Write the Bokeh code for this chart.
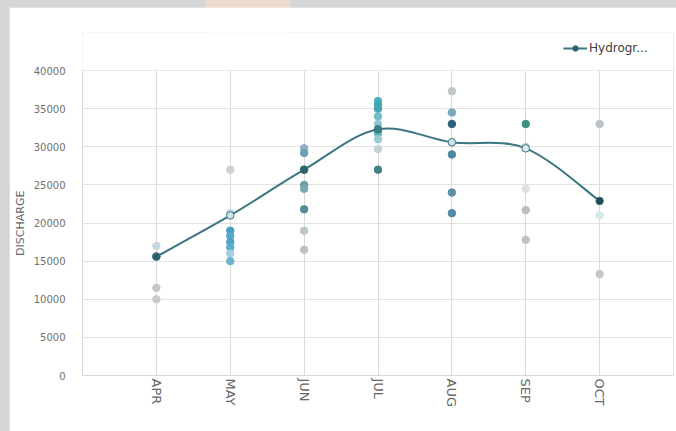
import numpy as np
from bokeh.plotting import figure
from bokeh.models import (ColumnDataSource, FixedTicker, Legend, LegendItem,
                          Range1d, Column, BoxAnnotation)
from bokeh.embed import file_html
from bokeh.resources import INLINE

# ---------------- data ----------------
months = ["APR", "MAY", "JUN", "JUL", "AUG", "SEP", "OCT"]
hydrograph = [15600, 21000, 27000, 32300, 30600, 29800, 22900]

obs_apr = [17000, 15600, 11500, 10000]
obs_may = [27000, 21300, 19000, 18300, 17500, 16800, 16000, 15000]
obs_jun = [29800, 29200, 27000, 25000, 24500, 21800, 19000, 16500]
obs_jul = [36000, 35500, 35000, 34000, 33000, 31800, 31000, 29700, 27000]
obs_aug = [37300, 34500, 33000, 29000, 24000, 21300]
obs_sep = [33000, 30000, 24500, 21700, 17800]
obs_oct = [33000, 21000, 13300]

y_ticks = [0, 5000, 10000, 15000, 20000, 25000, 30000, 35000, 40000]
y_max = 40000

# ---------------- styles ----------------
col_apr = ["#c3d8e3", "#4e8f9c", "#c2c9cc", "#c5cbce"]
col_may = ["#cdd3d6", "#b9d4df", "#4a9ec0", "#58a8c9", "#4ea5c5", "#5aaecb", "#a6cde0", "#6db4ce"]
col_jun = ["#8eafc6", "#6d9fb8", "#2f6a70", "#6b9fa6", "#79a8b0", "#4f8e96", "#bac8cc", "#b8c2c5"]
col_jul = ["#4fb0bd", "#3fa9b6", "#45a6b3", "#6fbcc6", "#8cc8d0", "#5cb3bf", "#9ccbd3", "#c3d2d6", "#3f7f86"]
col_aug = ["#c1c7ca", "#7ba7bf", "#2f607a", "#4c87a0", "#5c8ea6", "#4f8ca6"]
col_sep = ["#3d8f86", "#c9cfd0", "#dde3e5", "#b8c0c3", "#bcc3c5"]
col_oct = ["#bcc2c5", "#d6e7ec", "#c2c8ca"]
marker_cols = ["#2c5f69", "#cfe3ea", "#2d6269", "#3d7d86", "#cfe0e6", "#dfeaee", "#24484f"]
line_col = "#3b7580"
font = "DejaVu Sans"

groups = [obs_apr, obs_may, obs_jun, obs_jul, obs_aug, obs_sep, obs_oct]
colgroups = [col_apr, col_may, col_jun, col_jul, col_aug, col_sep, col_oct]
pos = list(range(1, len(months) + 1))
n_slots = len(months) + 1

sx, sy, sc = [], [], []
for i, (g, c) in enumerate(zip(groups, colgroups)):
    sx += [pos[i]] * len(g)
    sy += g
    sc += c
obs_src = ColumnDataSource(dict(x=sx, y=sy, c=sc))

# frame extends above 40000 to hold the legend; that strip is blanked
p = figure(width=667, height=424, x_range=Range1d(0, n_slots),
           y_range=Range1d(0, y_max * 1.125),
           output_backend="svg", toolbar_location=None,
           min_border_left=73, min_border_top=25, min_border_right=3, min_border_bottom=56)
p.margin = (7, 0, 0, 9)
p.background_fill_color = "white"
p.border_fill_color = "white"
p.outline_line_color = None

# axes
p.xaxis.ticker = FixedTicker(ticks=pos)
p.xaxis.major_label_overrides = {k: m for k, m in zip(pos, months)}
p.xaxis.major_label_orientation = "vertical"
p.xaxis.major_label_text_font = font
p.xaxis.major_label_text_font_size = "13px"
p.xaxis.major_label_text_color = "#666666"
p.xaxis.major_label_standoff = -3
p.xaxis.axis_line_color = "#d9d9d9"
p.xaxis.major_tick_line_color = None
p.xaxis.minor_tick_line_color = None

p.yaxis.ticker = FixedTicker(ticks=y_ticks)
p.yaxis.bounds = (0, y_max)
p.yaxis.major_label_text_font = font
p.yaxis.major_label_text_font_size = "10px"
p.yaxis.major_label_text_color = "#707070"
p.yaxis.major_label_standoff = 11
p.yaxis.axis_line_color = "#d9d9d9"
p.yaxis.major_tick_line_color = None
p.yaxis.minor_tick_line_color = None
# NBSP padding re-centres the title on the 0–40000 part of the frame
p.yaxis.axis_label = "DISCHARGE" + "\u00a0" * 11
p.yaxis.axis_label_text_font = font
p.yaxis.axis_label_text_font_size = "11px"
p.yaxis.axis_label_text_font_style = "normal"
p.yaxis.axis_label_text_color = "#666666"
p.yaxis.axis_label_standoff = 4

p.xgrid.ticker = FixedTicker(ticks=pos + [n_slots - 0.002])
p.xgrid.grid_line_color = "#dadada"
p.ygrid.ticker = FixedTicker(ticks=y_ticks)
p.ygrid.grid_line_color = "#e2e2e2"

# observations
p.scatter("x", "y", source=obs_src, size=7.5, fill_color="c", line_color="c")

# smoothed hydrograph line (Catmull-Rom -> cubic Bezier)
xs = np.array(pos, dtype=float)
ys = np.array(hydrograph, dtype=float)
x0 = xs[:-1]; y0 = ys[:-1]; x1 = xs[1:]; y1 = ys[1:]
xp = np.concatenate([[xs[0]], xs[:-2]]); yp = np.concatenate([[ys[0]], ys[:-2]])
xn = np.concatenate([xs[2:], [xs[-1]]]); yn = np.concatenate([ys[2:], [ys[-1]]])
cx0 = x0 + (x1 - xp) / 6.0; cy0 = y0 + (y1 - yp) / 6.0
cx1 = x1 - (xn - x0) / 6.0; cy1 = y1 - (yn - y0) / 6.0
bz = p.bezier(x0=x0, y0=y0, x1=x1, y1=y1, cx0=cx0, cy0=cy0, cx1=cx1, cy1=cy1,
              line_color=line_col, line_width=2)

mk_src = ColumnDataSource(dict(x=pos, y=hydrograph, c=marker_cols))
mk = p.scatter("x", "y", source=mk_src, size=7.5, fill_color="c", line_color=line_col, line_width=1)

# blank strip above the 40000 line (legend area)
p.add_layout(BoxAnnotation(bottom=y_max + 60, fill_color="white", fill_alpha=1.0,
                           line_color=None, line_alpha=0))

legend = Legend(items=[LegendItem(label="Hydrogr...", renderers=[bz, mk])],
                location=(481, 320), orientation="horizontal",
                padding=0, margin=0, spacing=0, glyph_width=24, glyph_height=14,
                label_standoff=2, label_text_font=font, label_text_font_size="12px",
                label_text_color="#404040", border_line_alpha=0, border_line_color=None,
                background_fill_alpha=0)
p.add_layout(legend, "center")

layout = Column(children=[p], styles={
    "background": "linear-gradient(to right, #d6d6d6 205px, #ecdccf 205px, "
                  "#ecdccf 290px, #d6d6d6 290px)"})
open("out.html", "w").write(file_html(layout, INLINE))
